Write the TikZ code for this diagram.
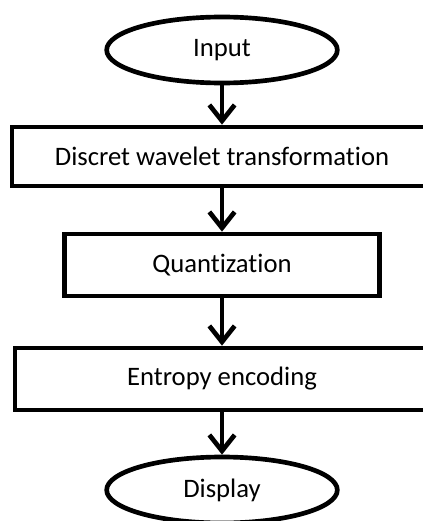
\documentclass[tikz,border=0pt]{standalone}
\usepackage{fontspec}
\setmainfont{Carlito}[Ligatures=NoCommon]
\usetikzlibrary{arrows.meta,shapes.geometric}

\begin{document}
\begin{tikzpicture}[x=0.75pt,y=-0.75pt,
  font=\fontsize{20}{24}\selectfont,
  term/.style={ellipse,draw,line width=3.5pt,minimum width=173pt,minimum height=49.5pt,inner sep=0pt},
  stage/.style={rectangle,draw,line width=3.5pt,inner sep=0pt},
  flow/.style={line width=3.5pt,-{Straight Barb[length=12pt,width=19pt]}}]
\useasboundingbox (0,0) rectangle (422,521);
\node[term] (input) at (222,50) {Input};
\node[stage,minimum width=315pt,minimum height=44.25pt] (dwt) at (222,156.5) {Discret wavelet transformation};
\node[stage,minimum width=236.25pt,minimum height=46.5pt] (quant) at (222,265) {Quantization};
\node[stage,minimum width=310.5pt,minimum height=46.5pt] (entropy) at (222,379) {Entropy encoding};
\node[term] (display) at (222,490) {Display};
\draw[flow] (input) -- (dwt);
\draw[flow] (dwt) -- (quant);
\draw[flow] (quant) -- (entropy);
\draw[flow] (entropy) -- (display);
\end{tikzpicture}
\end{document}
